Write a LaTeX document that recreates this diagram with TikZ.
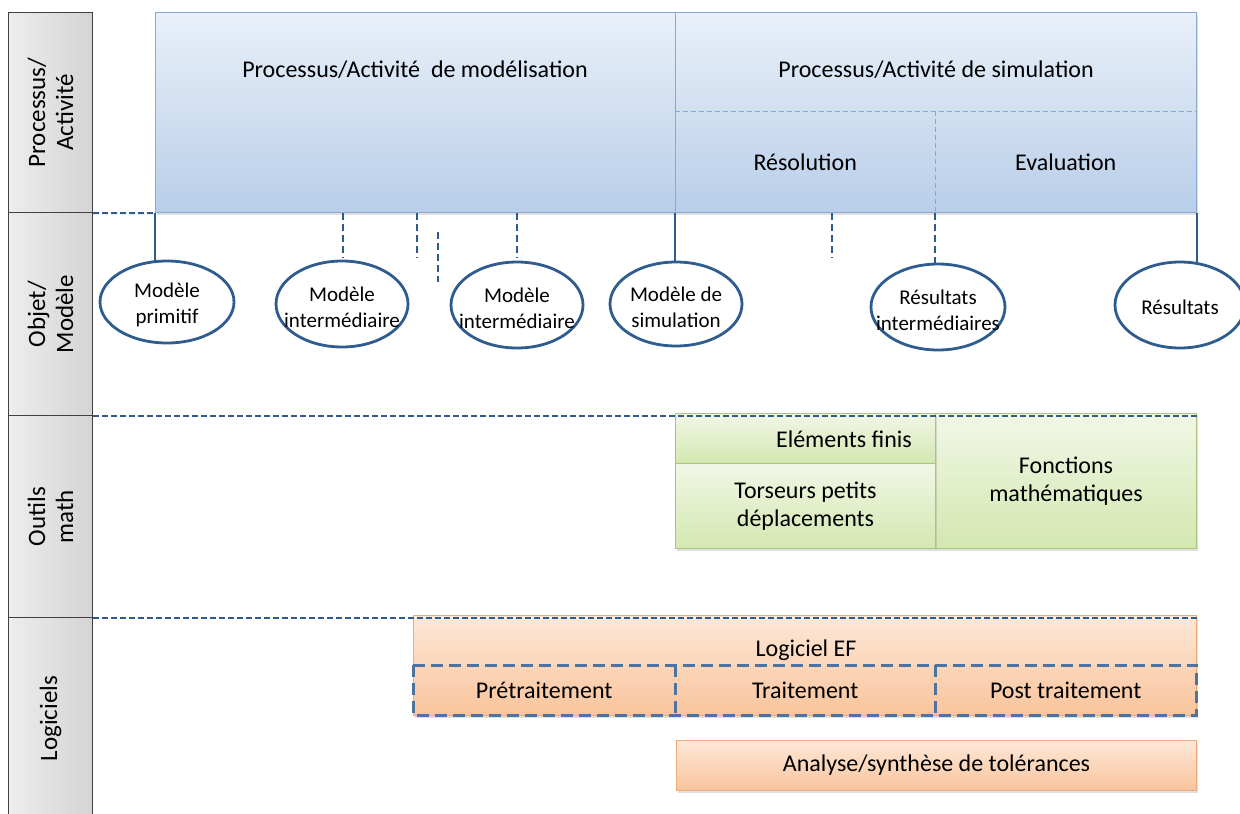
\documentclass[tikz,border=0pt]{standalone}
\usepackage{fontspec}
\setmainfont{Carlito}
\usetikzlibrary{shapes.geometric,calc,shadows}
\definecolor{dblue}{HTML}{2E5C8E}
\definecolor{bbord}{HTML}{86A8D2}
\definecolor{btop}{HTML}{E9F0F9}
\definecolor{bbot}{HTML}{B8CEE9}
\definecolor{gtop}{HTML}{F1F7E6}
\definecolor{gbot}{HTML}{D4E7B0}
\definecolor{gbord}{HTML}{A8C77C}
\definecolor{otop}{HTML}{FDE8D8}
\definecolor{obot}{HTML}{F9C49C}
\definecolor{obord}{HTML}{EFAA78}
\definecolor{sl}{HTML}{EDEDED}
\definecolor{sr}{HTML}{D4D4D4}
\begin{document}
\begin{tikzpicture}[x=1pt,y=-1pt,
  big/.style={font=\fontsize{24}{28}\selectfont},
  side/.style={font=\fontsize{25}{28}\selectfont},
  small/.style={font=\fontsize{21}{26}\selectfont},
  shad/.style={drop shadow={opacity=0.25,shadow xshift=1pt,shadow yshift=-2pt}},
  bbox/.style={draw=bbord,line width=1pt,top color=btop,bottom color=bbot,anchor=north west,inner sep=0pt,shad},
  gbox/.style={draw=gbord,line width=1pt,top color=gtop,bottom color=gbot,anchor=north west,inner sep=0pt,big,align=center,shad},
  obox/.style={draw=obord,line width=1pt,top color=otop,bottom color=obot,anchor=north west,inner sep=0pt,big,align=center,shad},
  sbox/.style={draw=black!75,line width=1.2pt,left color=sl,right color=sr,anchor=north west,inner sep=0pt,minimum width=84pt},
  idash/.style={draw=bbord,line width=1pt,dash pattern=on 5pt off 3pt},
  cell/.style={anchor=north west,inner sep=0pt,big},
  tdash/.style={draw=dblue!85,line width=3pt,dash pattern=on 12pt off 6pt},
  sep/.style={draw=dblue,line width=2pt,dash pattern=on 6pt off 3pt},
  dconn/.style={draw=dblue,line width=2.2pt,dash pattern=on 7pt off 4pt},
  sconn/.style={draw=dblue,line width=2.2pt},
  ell/.style={ellipse,draw=dblue,line width=2.8pt,fill=white,inner sep=0pt},
  etxt/.style={small,align=center,inner sep=0pt}
]
\useasboundingbox (0,0) rectangle (1240,814);

% sidebar
\node[sbox,minimum height=200pt] (s1) at (8,12) {};
\node[sbox,minimum height=203pt] (s2) at (8,212) {};
\node[sbox,minimum height=202pt] (s3) at (8,415) {};
\node[sbox,minimum height=202pt] (s4) at (8,617) {};
\node[side,rotate=90,align=center] (l1) at (s1.center) {Processus/\\Activité};
\node[side,rotate=90,align=center] (l2) at (s2.center) {Objet/\\Modèle};
\node[side,rotate=90,align=center] (l3) at (s3.center) {Outils\\math};
\node[side,rotate=90,align=center] (l4) at (s4.center) {Logiciels};

% process boxes
\node[bbox,minimum width=520pt,minimum height=200pt] (modl) at (155,12) {};
\node[bbox,minimum width=521pt,minimum height=200pt] (simu) at (675,12) {};
\node[big] (tmodl) at (415,70) {Processus/Activité\ \ de modélisation};
\node[big] (tsimu) at (936,70) {Processus/Activité de simulation};
\node[cell,minimum width=260pt,minimum height=102pt] (reso) at (675,111) {Résolution};
\node[cell,minimum width=261pt,minimum height=102pt] (eval) at (935,111) {Evaluation};
\draw[idash] (simu.west |- reso.north) -- (simu.east |- reso.north);
\draw[idash] (eval.north west) -- (eval.south west);

% math tools
\node[gbox,minimum width=261pt,minimum height=135pt] (fonc) at (935,413) {Fonctions\\mathématiques};
\node[gbox,minimum width=260pt,minimum height=50pt] (ef) at (675,413) {};
\node[big,anchor=east,inner sep=0pt] (eft) at ($(ef.east)+(-24,1)$) {Eléments finis};
\node[gbox,minimum width=260pt,minimum height=85pt] (tors) at (675,463) {Torseurs petits\\déplacements};

% software
\node[obox,minimum width=783pt,minimum height=100pt] (lef) at (413,615) {};
\node[big] (tlef) at (806,650) {Logiciel EF};
\node[cell,minimum width=262pt,minimum height=50pt] (pre) at (413,665) {Prétraitement};
\node[cell,minimum width=260pt,minimum height=50pt] (trt) at (675,665) {Traitement};
\node[cell,minimum width=261pt,minimum height=50pt] (post) at (935,665) {Post traitement};
\draw[tdash] (pre.north west) rectangle (post.south east);
\draw[tdash] (trt.north west) -- (trt.south west);
\draw[tdash] (post.north west) -- (post.south west);
\node[obox,minimum width=520pt,minimum height=50pt] (tol) at (676,740) {Analyse/synthèse de tolérances};

% separators
\draw[sep] (s1.south east) -- (modl.south west);
\draw[sep] (s2.south east) -- (s2.south east -| fonc.north east);
\draw[sep] (s3.south east) -- (s3.south east -| lef.north east);

% connectors
\coordinate (c1) at (343,258);
\coordinate (c2) at (417,258);
\coordinate (c3a) at (438,232);
\coordinate (c3b) at (438,282);
\coordinate (c4) at (517,258);
\coordinate (c5) at (832,258);
\draw[dconn] (modl.south -| c1) -- (c1);
\draw[dconn] (modl.south -| c2) -- (c2);
\draw[dconn] (c3a) -- (c3b);
\draw[dconn] (modl.south -| c4) -- (c4);
\draw[dconn] (simu.south -| c5) -- (c5);

% ellipses
\node[ell,minimum width=134pt,minimum height=82pt] (e1) at (167,302) {};
\node[ell,minimum width=132pt,minimum height=86pt] (e2) at (342,304) {};
\node[ell,minimum width=132pt,minimum height=86pt] (e3) at (517,305) {};
\node[ell,minimum width=132pt,minimum height=84pt] (e4) at (676,304) {};
\node[ell,minimum width=134pt,minimum height=86pt] (e5) at (938,307) {};
\node[ell,minimum width=130pt,minimum height=86pt] (e6) at (1180,305) {};
\node[etxt] (t1) at ($(e1.center)+(0,3)$) {Modèle\\primitif};
\node[etxt] (t2) at ($(e2.center)+(0,3)$) {Modèle\\intermédiaire};
\node[etxt] (t3) at ($(e3.center)+(0,3)$) {Modèle\\intermédiaire};
\node[etxt] (t4) at ($(e4.center)+(0,3)$) {Modèle de\\simulation};
\node[etxt] (t5) at ($(e5.center)+(0,3)$) {Résultats\\intermédiaires};
\node[etxt] (t6) at ($(e6.center)+(0,2)$) {Résultats};

\draw[sconn] (modl.south west) -- ($(modl.south west |- e1.north)+(0,2)$);
\draw[sconn] (simu.south west) -- (simu.south west |- e4.north);
\draw[dconn] (eval.south west) -- (eval.south west |- e5.north);
\draw[sconn] (simu.south east) -- ($(simu.south east |- e6.north)+(0,2)$);
\end{tikzpicture}
\end{document}
